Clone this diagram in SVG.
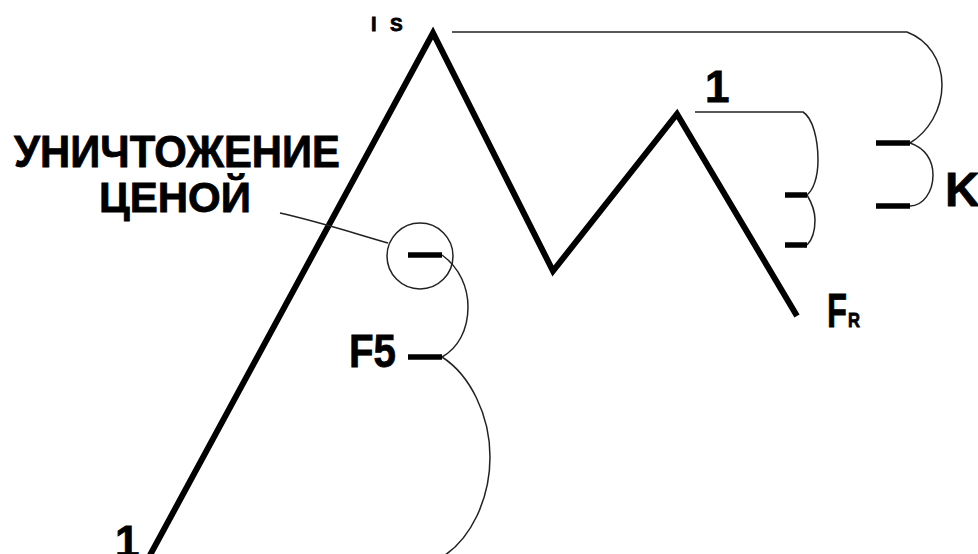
<svg xmlns="http://www.w3.org/2000/svg" width="978" height="554" viewBox="0 0 978 554">
<style>
.main{fill:none;stroke:#000;stroke-width:6;stroke-linejoin:miter;stroke-linecap:butt}
.thin{fill:none;stroke:#222;stroke-width:1.5}
.dash{stroke:#000;stroke-width:5.5}
.t{font-family:"Liberation Sans",Arial,sans-serif;font-weight:bold;fill:#000;stroke:#000;stroke-width:0.8}
</style>
<rect width="978" height="554" fill="#fff"/>
<g id="connectors">
<polyline id="price" class="main" points="149,557 433,33 553,271 677,114 797,316"/>
<path class="thin" d="M452,32 H907 C928,40 942,60 942,85 C942,110 928,132 910,143"/>
<path class="thin" d="M910,143 C925,148 933,160 933,175 C933,192 923,206 910,206"/>
<path class="thin" d="M695,112 H803 C813,118 818,140 818,160 C818,178 813,190 807,195"/>
<path class="thin" d="M807,195 C813,205 815,212 815,220 C815,230 812,240 807,245"/>
<path class="thin" d="M280,213 C320,222 350,232 388,243"/>
<circle class="thin" cx="420" cy="256" r="33"/>
<path class="thin" d="M442,255 C460,268 468,288 468,307 C468,330 458,348 442,357"/>
<path class="thin" d="M442,357 C470,375 490,415 490,457 C490,500 470,540 442,557"/>
</g>
<g id="dashes">
<line class="dash" x1="876" y1="143" x2="910" y2="143"/>
<line class="dash" x1="876" y1="206" x2="910" y2="206"/>
<line class="dash" x1="785" y1="195" x2="807" y2="195"/>
<line class="dash" x1="785" y1="245" x2="807" y2="245"/>
<line class="dash" x1="408" y1="255" x2="442" y2="255"/>
<line class="dash" x1="408" y1="357" x2="442" y2="357"/>
</g>
<g id="label-fs"><text class="t" x="371" y="31" font-size="20">I</text><text class="t" x="390" y="31" font-size="19">S</text></g>
<g id="label-1-top"><text class="t" x="705" y="102" font-size="44">1</text></g>
<g id="label-k"><text class="t" x="945" y="206" font-size="48">K</text></g>
<g id="label-fr"><text class="t" x="827" y="327" font-size="48" textLength="20" lengthAdjust="spacingAndGlyphs">F</text><text class="t" x="848" y="327" font-size="20" textLength="12" lengthAdjust="spacingAndGlyphs">R</text></g>
<g id="label-destroy"><text class="t" x="14" y="167" font-size="44" textLength="326" lengthAdjust="spacingAndGlyphs">УНИЧТОЖЕНИЕ</text><text class="t" x="99" y="212" font-size="42" textLength="152" lengthAdjust="spacingAndGlyphs">ЦЕНОЙ</text></g>
<g id="label-f5"><text class="t" x="349" y="367" font-size="46" textLength="47" lengthAdjust="spacingAndGlyphs">F5</text></g>
<g id="label-1-bottom"><text class="t" x="115" y="557" font-size="44">1</text></g>
</svg>
